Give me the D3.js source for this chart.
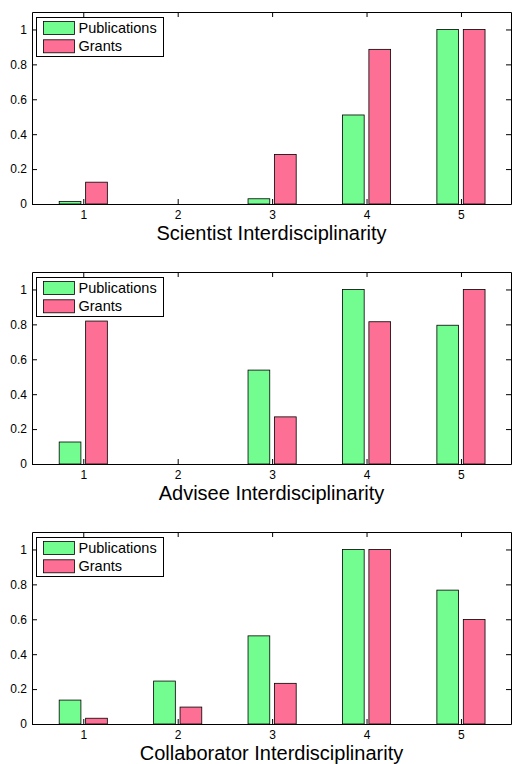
<!DOCTYPE html>
<html>
<head>
<meta charset="utf-8">
<script src="https://cdn.jsdelivr.net/npm/d3@7"></script>
<style>
  body { margin: 0; background: #fff; }
  text { font-family: "Liberation Sans", Arial, sans-serif; }
</style>
</head>
<body>
<div id="chart"></div>
<script>
// data
const categories = [1, 2, 3, 4, 5];
const seriesNames = ['Publications', 'Grants'];
const panelLabels = ['Scientist Interdisciplinarity', 'Advisee Interdisciplinarity', 'Collaborator Interdisciplinarity'];
const scientistPubs = [0.015, 0, 0.03, 0.51, 1];
const scientistGrants = [0.125, 0, 0.284, 0.886, 1];
const adviseePubs = [0.126, 0, 0.538, 1, 0.795];
const adviseeGrants = [0.819, 0, 0.27, 0.815, 1];
const collabPubs = [0.137, 0.246, 0.505, 1, 0.767];
const collabGrants = [0.033, 0.097, 0.233, 1, 0.599];
const yTicks = [0, 0.2, 0.4, 0.6, 0.8, 1];

const panels = [
    {label: panelLabels[0], series: [scientistPubs, scientistGrants]},
    {label: panelLabels[1], series: [adviseePubs, adviseeGrants]},
    {label: panelLabels[2], series: [collabPubs, collabGrants]},
];

const colors = ['#73fc8f', '#fd6f94'];

// dimensions
const dimensions = {
    width: 512,
    height: 764,
    panelHeight: 192,
    panelStep: 260,
    margin: {top: 12, left: 32, right: 1}
};
dimensions.containerWidth = dimensions.width - dimensions.margin.left - dimensions.margin.right;

const svg = d3.select('#chart')
    .append('svg')
    .attr('width', dimensions.width)
    .attr('height', dimensions.height);

// scales
const xScale = d3.scaleLinear()
    .domain([0.457, 5.53])
    .range([0, dimensions.containerWidth]);

const yScale = d3.scaleLinear()
    .domain([0, 1.1])
    .range([dimensions.panelHeight, 0]);

const barWidth = 0.23;
const barOffset = [-0.14, 0.14];
const tickLen = 5;

panels.forEach((panel, i) => {
    const container = svg.append('g')
        .attr('transform', `translate(${dimensions.margin.left}, ${dimensions.margin.top + i * dimensions.panelStep})`);

    // bars
    panel.series.forEach((values, s) => {
        container.append('g')
            .selectAll('rect')
            .data(values)
            .join('rect')
            .attr('x', (d, j) => xScale(categories[j] + barOffset[s] - barWidth / 2))
            .attr('width', xScale(barWidth) - xScale(0))
            .attr('y', d => yScale(d))
            .attr('height', d => yScale(0) - yScale(d))
            .attr('fill', colors[s])
            .attr('stroke', '#000')
            .attr('stroke-width', 0.8);
    });

    // axes
    const xAxis = d3.axisBottom(xScale)
        .tickValues(categories)
        .tickSizeInner(-tickLen)
        .tickSizeOuter(0)
        .tickPadding(6)
        .tickFormat(d3.format('d'));

    const xAxisGroup = container.append('g')
        .attr('transform', `translate(0, ${dimensions.panelHeight})`)
        .call(xAxis);

    const xTopAxis = d3.axisTop(xScale)
        .tickValues(categories)
        .tickSizeInner(-tickLen)
        .tickSizeOuter(0)
        .tickFormat('');

    container.append('g').call(xTopAxis);

    const yAxis = d3.axisLeft(yScale)
        .tickValues(yTicks)
        .tickSizeInner(-tickLen)
        .tickSizeOuter(0)
        .tickPadding(5)
        .tickFormat(d => d === 0 || d === 1 ? d3.format('d')(d) : d3.format('.1f')(d));

    container.append('g').call(yAxis);

    const yRightAxis = d3.axisRight(yScale)
        .tickValues(yTicks)
        .tickSizeInner(-tickLen)
        .tickSizeOuter(0)
        .tickFormat('');

    container.append('g')
        .attr('transform', `translate(${dimensions.containerWidth}, 0)`)
        .call(yRightAxis);

    container.selectAll('.domain').attr('stroke', '#000');
    container.selectAll('.tick line').attr('stroke', '#000');
    container.selectAll('.tick text')
        .attr('fill', '#000')
        .style('font-size', '12px');

    // x label
    xAxisGroup.append('text')
        .attr('x', dimensions.containerWidth / 2)
        .attr('y', 35.5)
        .attr('fill', '#000')
        .style('font-size', '20px')
        .style('text-anchor', 'middle')
        .text(panel.label);

    // legend
    const legend = container.append('g')
        .attr('transform', 'translate(4.5, 5.5)');

    legend.append('rect')
        .attr('width', 127)
        .attr('height', 39)
        .attr('fill', '#fff')
        .attr('stroke', '#000');

    seriesNames.forEach((name, s) => {
        legend.append('rect')
            .attr('x', 7)
            .attr('y', 4 + s * 18.3)
            .attr('width', 31)
            .attr('height', 13)
            .attr('fill', colors[s])
            .attr('stroke', '#000')
            .attr('stroke-width', 0.8);
        legend.append('text')
            .attr('x', 42)
            .attr('y', 15.5 + s * 18.3)
            .attr('fill', '#000')
            .style('font-size', '14.5px')
            .text(name);
    });
});
</script>
</body>
</html>
